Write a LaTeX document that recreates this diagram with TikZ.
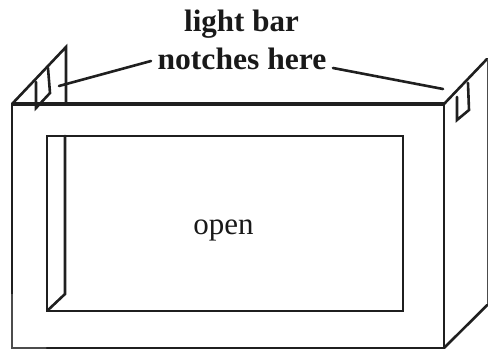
\documentclass[tikz,border=0pt]{standalone}
\usepackage{fontspec}
\setmainfont{Liberation Serif}
\tikzset{
  ln/.style={line width=2.6pt,draw=black!88,line cap=round,line join=miter},
  thin ln/.style={line width=1.4pt,draw=black!70},
  heavy/.style={line width=3.6pt,draw=black!88},
  lbl/.style={inner sep=0pt,anchor=base,font=\fontsize{31}{33}\selectfont,text=black!90},
  blbl/.style={lbl,font=\fontsize{31}{33}\selectfont\bfseries}
}
\begin{document}
\begin{tikzpicture}[x=1pt,y=-1pt]
\useasboundingbox (0,0) rectangle (488,350);
% labels
\node[blbl] (t1) at (241.5,32) {light bar};
\node[blbl,xscale=1.02] (t2) at (242,70) {notches here};
\node[lbl] (t3) at (223.5,235) {open};
% coordinates
\coordinate (tl) at (12,104);
\coordinate (tr) at (444,104);
\coordinate (br) at (444,348);
\coordinate (bl) at (12,348);
% outer front
\draw[heavy] (tl) -- (tr);
\draw[ln] (tl) -- (12,294);
\draw[thin ln] (12,294) -- (bl) -- (47,348);
\draw[ln] (47,348) -- (br) -- (tr);
% inner opening
\draw[ln] (47,136) rectangle (403,311);
\draw[ln] (65,136) -- (65,294) -- (47,311);
% left flap
\draw[ln] (tl) -- (66,47) -- (66,104);
\draw[ln] (36,82) -- (36,108) -- (50,93) -- (48,68);
% right side
\draw[ln] (tr) -- (487,59);
\draw[thin ln] (487.3,59) -- (487.3,305);
\draw[ln] (br) -- (487.3,305);
\draw[ln] (457,97) -- (457,120) -- (469,110) -- (468,83);
% leaders
\coordinate (la) at (59,86);
\coordinate (lb) at (443,89);
\coordinate (l1) at (151,61);
\coordinate (l2) at (333,68);
\draw[ln] (l1) -- (la);
\draw[ln] (l2) -- (lb);
\end{tikzpicture}
\end{document}
